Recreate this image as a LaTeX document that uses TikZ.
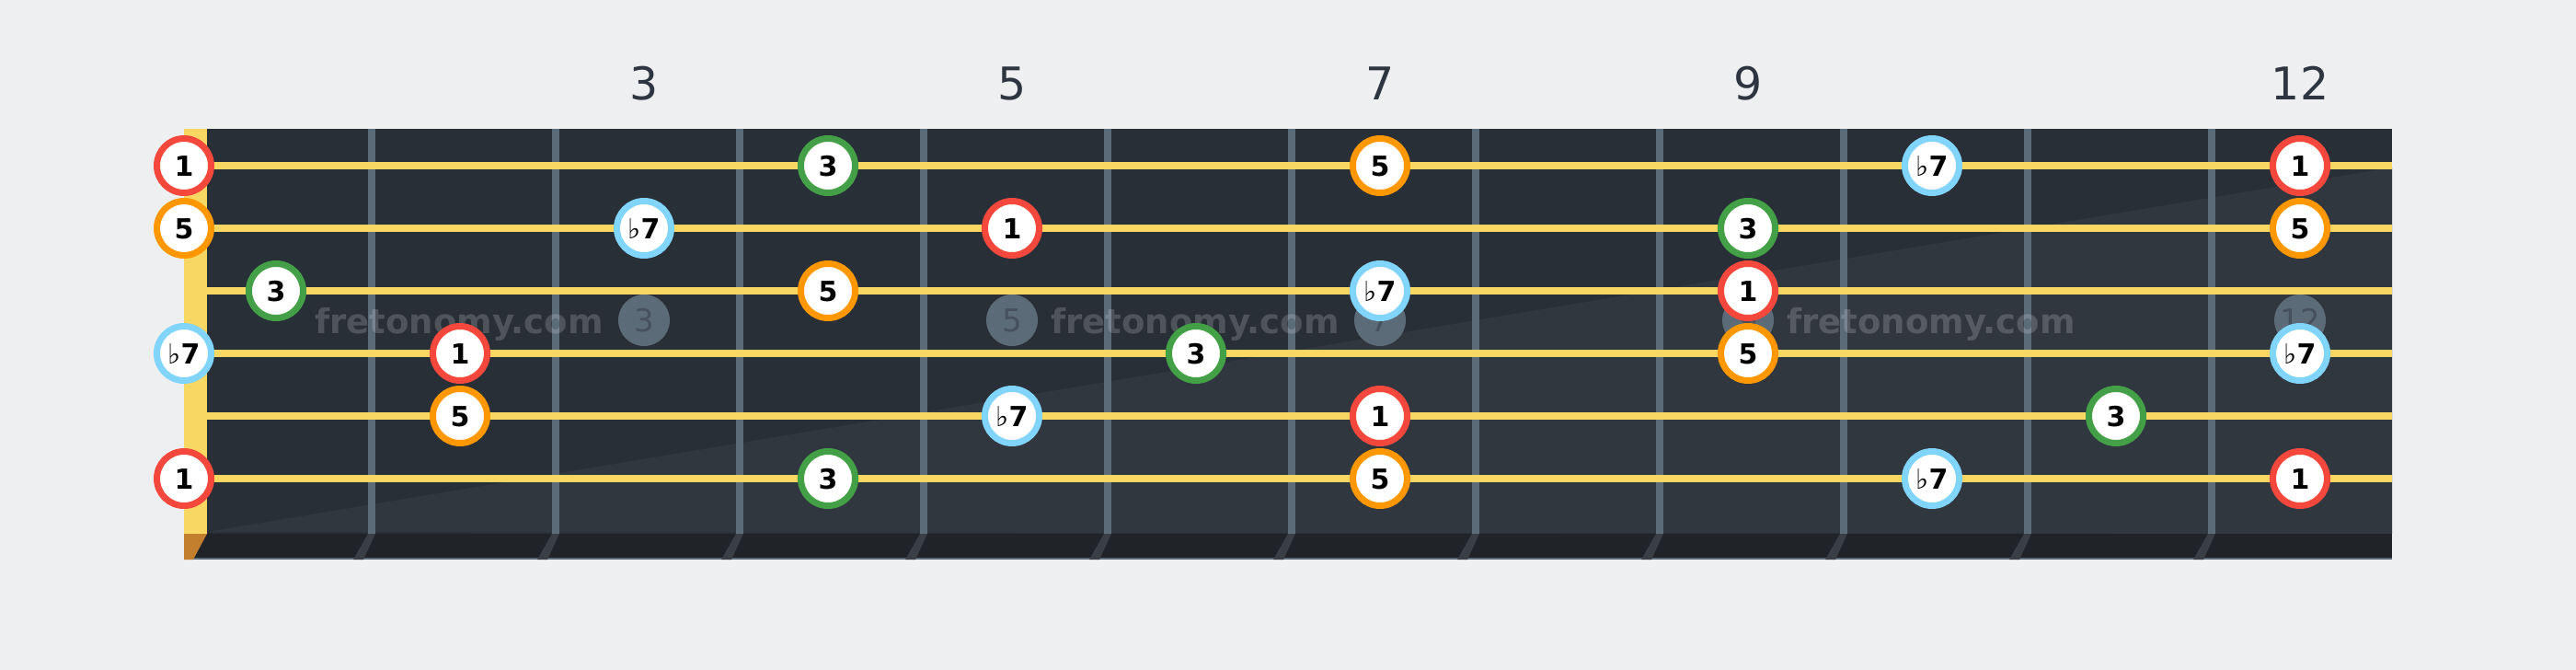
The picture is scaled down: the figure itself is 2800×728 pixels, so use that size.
\documentclass[tikz,border=0pt]{standalone}
\usepackage{fontspec}
\setmainfont{DejaVu Sans}
\definecolor{bgc}{HTML}{EEEFF1}
\definecolor{boardc}{HTML}{292F37}
\definecolor{boardlight}{HTML}{31373F}
\definecolor{stripc}{HTML}{202328}
\definecolor{edgec}{HTML}{5B6B78}
\definecolor{nutc}{HTML}{F8D862}
\definecolor{nutbase}{HTML}{C47F2E}
\definecolor{fretc}{HTML}{5B6B78}
\definecolor{shadowc}{HTML}{3A3F45}
\definecolor{stringc}{HTML}{F8D862}
\definecolor{markc}{HTML}{5C6B78}
\definecolor{marktext}{HTML}{46515D}
\definecolor{numc}{HTML}{2D3540}
\definecolor{nred}{HTML}{F4483C}
\definecolor{norange}{HTML}{FF9800}
\definecolor{ngreen}{HTML}{43A047}
\definecolor{nblue}{HTML}{81D4FA}
\newcommand\flatseven{{\mdseries ♭}7}
\tikzset{
  note/.style={circle, fill=white, line width=7pt, minimum size=59pt, inner sep=0pt,
    font=\fontsize{30}{30}\selectfont\bfseries, text height=22pt, text depth=0pt, text=black},
  nroot/.style={note, draw=nred},
  nthird/.style={note, draw=ngreen},
  nfifth/.style={note, draw=norange},
  nsev/.style={note, draw=nblue},
  fretnum/.style={anchor=base, inner sep=0pt, text=numc, font=\fontsize{49}{49}\selectfont},
  marker/.style={circle, fill=markc, minimum size=56pt, inner sep=0pt},
  marklabel/.style={anchor=base, inner sep=0pt, text=marktext, font=\fontsize{34}{34}\selectfont},
  wm/.style={anchor=base, inner sep=0pt, text=white, text opacity=0.18, font=\fontsize{37}{37}\selectfont\bfseries}
}
\begin{document}
\begin{tikzpicture}[x=1pt,y=-1pt]
\useasboundingbox (0,0) rectangle (2800,728);
\fill[bgc] (0,0) rectangle (2800,728);
% board
\fill[boardc] (200,140) rectangle (2600,580);
\fill[boardlight] (225,578) -- (2600,182) -- (2600,580) -- cycle;
\fill[stripc] (200,580) rectangle (2600,608);
\draw[edgec, line width=2pt] (200,607) -- (2600,607);
\fill[nutc] (200,140) rectangle (225,580);
\fill[nutbase] (200,580) -- (225,580) -- (210,608) -- (200,608) -- cycle;
% frets
\foreach \i in {0,...,10} {
  \fill[fretc] (400+200*\i,140) rectangle (408+200*\i,580);
  \fill[shadowc] (400+200*\i,580) -- (408+200*\i,580) -- (395+200*\i,608) -- (384+200*\i,608) -- cycle;
}
% fret numbers and markers
\foreach \f in {3,5,7,9,12} {
  \node[fretnum] (num\f) at (100+200*\f,108) {\f};
  \node[marker] (mk\f) at (100+200*\f,348) {};
  \node[marklabel] (ml\f) at (100+200*\f,360) {\f};
}
% watermarks
\node[wm] (wm1) at (499,362.5) {fretonomy.com};
\node[wm] (wm2) at (1299,362.5) {fretonomy.com};
\node[wm] (wm3) at (2099,362.5) {fretonomy.com};
% strings
\foreach \s in {1,...,6} {
  \fill[stringc] (225,108+68*\s) rectangle (2600,116+68*\s);
}
% notes
\foreach \s/\f/\st/\lab in {
  1/0/nroot/1, 1/4/nthird/3, 1/7/nfifth/5, 1/10/nsev/\flatseven, 1/12/nroot/1,
  2/0/nfifth/5, 2/3/nsev/\flatseven, 2/5/nroot/1, 2/9/nthird/3, 2/12/nfifth/5,
  3/1/nthird/3, 3/4/nfifth/5, 3/7/nsev/\flatseven, 3/9/nroot/1,
  4/0/nsev/\flatseven, 4/2/nroot/1, 4/6/nthird/3, 4/9/nfifth/5, 4/12/nsev/\flatseven,
  5/2/nfifth/5, 5/5/nsev/\flatseven, 5/7/nroot/1, 5/11/nthird/3,
  6/0/nroot/1, 6/4/nthird/3, 6/7/nfifth/5, 6/10/nsev/\flatseven, 6/12/nroot/1} {
  \pgfmathsetmacro\xx{\f==0 ? 200 : 100+200*\f}
  \node[\st] (n\s-\f) at (\xx,112+68*\s) {\lab};
}
\end{tikzpicture}
\end{document}
